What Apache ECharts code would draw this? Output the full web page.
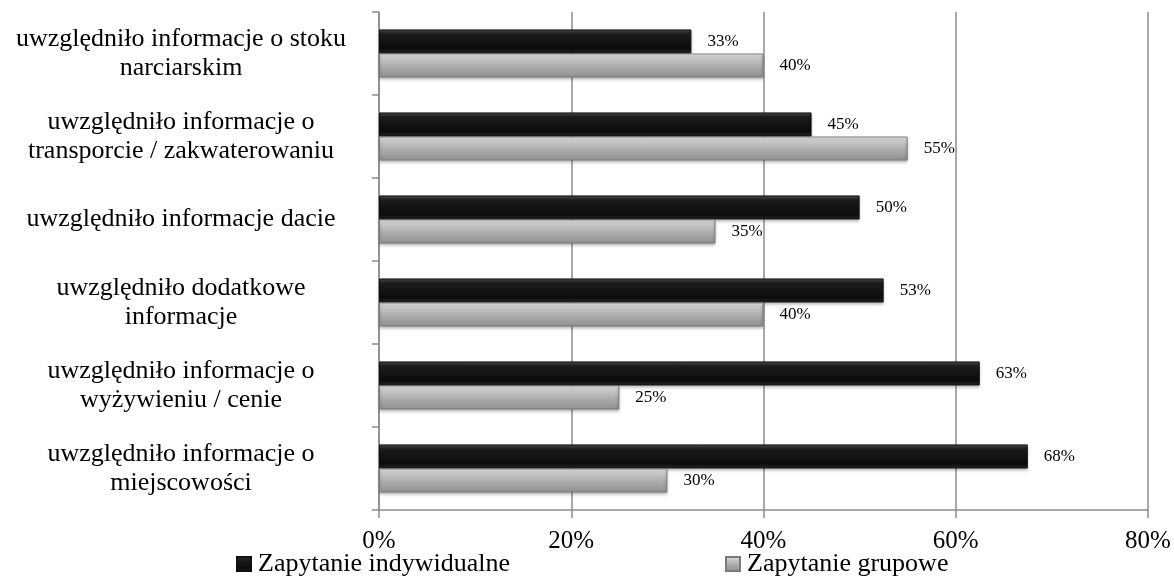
<!DOCTYPE html>
<html>
<head>
<meta charset="utf-8">
<script src="https://cdn.jsdelivr.net/npm/echarts@6/dist/echarts.min.js"></script>
<style>
  html, body { margin: 0; padding: 0; background: #fff; }
  #chart { width: 1174px; height: 576px; }
</style>
</head>
<body>
<div id="chart"></div>
<script>
// categories listed top to bottom
const categories = [
  'uwzględniło informacje o stoku\nnarciarskim',
  'uwzględniło informacje o\ntransporcie / zakwaterowaniu',
  'uwzględniło informacje dacie',
  'uwzględniło dodatkowe\ninformacje',
  'uwzględniło informacje o\nwyżywieniu / cenie',
  'uwzględniło informacje o\nmiejscowości'
]
const individualValues = [32.5, 45, 50, 52.5, 62.5, 67.5]
const groupValues = [40, 55, 35, 40, 25, 30]
const seriesNames = ['Zapytanie indywidualne', 'Zapytanie grupowe']
const xTicks = [0, 20, 40, 60, 80]

const serif = '"Liberation Serif", "Times New Roman", serif'

const chart = echarts.init(document.getElementById('chart'))

const blackFill = new echarts.graphic.LinearGradient(0, 0, 0, 1, [
  { offset: 0, color: '#505050' },
  { offset: 0.2, color: '#1c1c1c' },
  { offset: 0.8, color: '#0b0b0b' },
  { offset: 1, color: '#2a2a2a' }
])
const grayFill = new echarts.graphic.LinearGradient(0, 0, 0, 1, [
  { offset: 0, color: '#ececec' },
  { offset: 0.25, color: '#c4c4c4' },
  { offset: 0.6, color: '#a8a8a8' },
  { offset: 1, color: '#909090' }
])

function pctLabel(p) {
  return Math.round(p.value + 1e-9) + '%'
}

const legendText = { fontFamily: serif, fontSize: 26, color: '#000', padding: [0, 0, 0, 2] }

chart.setOption({
  animation: false,
  textStyle: { fontFamily: serif },
  grid: { left: 379, right: 26, top: 12, bottom: 66 },
  legend: [
    {
      data: [seriesNames[0]],
      left: 231, top: 546,
      itemWidth: 14, itemHeight: 14, itemGap: 0,
      icon: 'rect',
      textStyle: legendText
    },
    {
      data: [seriesNames[1]],
      left: 720, top: 546,
      itemWidth: 14, itemHeight: 14, itemGap: 0,
      icon: 'rect',
      textStyle: legendText
    }
  ],
  xAxis: {
    type: 'value',
    min: xTicks[0],
    max: xTicks[xTicks.length - 1],
    interval: 20,
    axisLine: { show: true, lineStyle: { color: '#8c8c8c', width: 1.5 } },
    axisTick: { show: true, length: 8, lineStyle: { color: '#8c8c8c', width: 1.5 } },
    splitLine: { show: true, lineStyle: { color: '#8c8c8c', width: 1.5 } },
    axisLabel: {
      formatter: '{value}%',
      fontFamily: serif, fontSize: 25, color: '#000', margin: 19
    }
  },
  yAxis: {
    type: 'category',
    inverse: true,
    data: categories,
    axisLine: { show: true, lineStyle: { color: '#8c8c8c', width: 1.5 } },
    axisTick: { show: true, length: 7, lineStyle: { color: '#8c8c8c', width: 1.5 } },
    axisLabel: {
      fontFamily: serif, fontSize: 26, color: '#000', margin: 198,
      lineHeight: 29, align: 'center'
    }
  },
  series: [
    {
      name: seriesNames[0],
      type: 'bar',
      data: individualValues,
      barGap: '0%',
      barCategoryGap: '42%',
      itemStyle: {
        color: blackFill,
        borderColor: '#111',
        borderWidth: 1,
        shadowColor: 'rgba(0,0,0,0.3)',
        shadowBlur: 3,
        shadowOffsetY: 2
      },
      label: {
        show: true, position: 'right', distance: 16,
        formatter: pctLabel,
        fontFamily: serif, fontSize: 17, color: '#000'
      }
    },
    {
      name: seriesNames[1],
      type: 'bar',
      data: groupValues,
      barGap: '0%',
      barCategoryGap: '42%',
      itemStyle: {
        color: grayFill,
        borderColor: '#7a7a7a',
        borderWidth: 1,
        shadowColor: 'rgba(0,0,0,0.3)',
        shadowBlur: 3,
        shadowOffsetY: 2
      },
      label: {
        show: true, position: 'right', distance: 16,
        formatter: pctLabel,
        fontFamily: serif, fontSize: 17, color: '#000'
      }
    }
  ]
})
</script>
</body>
</html>
